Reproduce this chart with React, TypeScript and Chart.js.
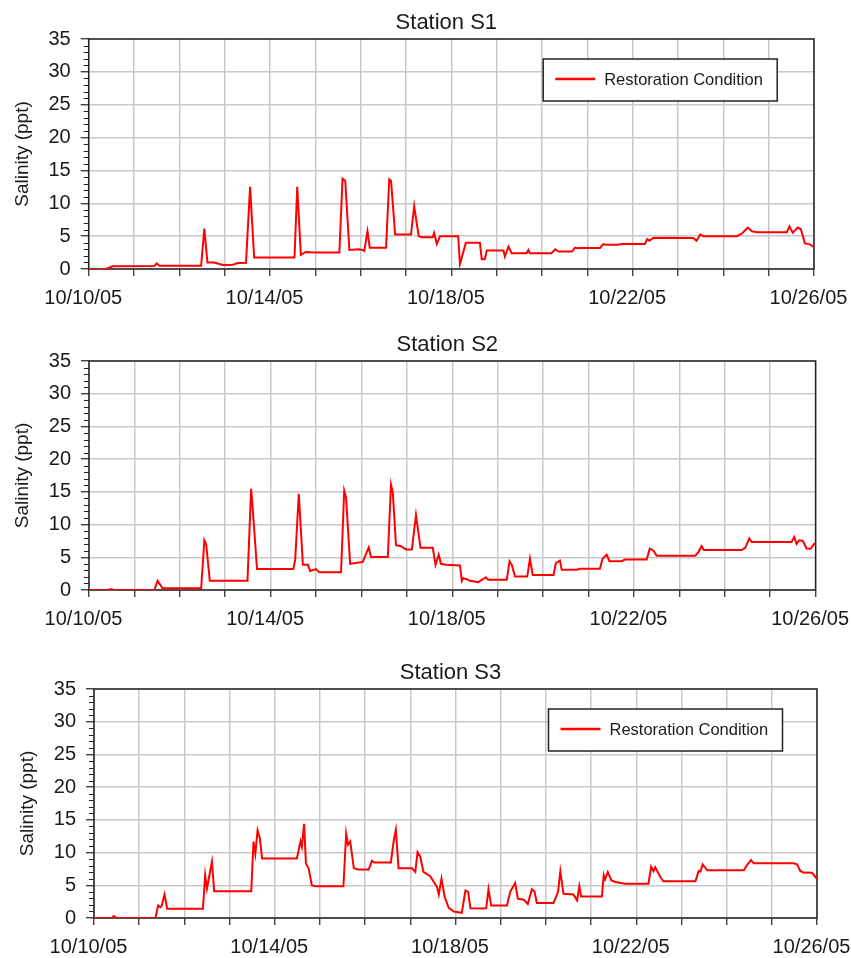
import React, { useEffect, useRef } from 'react';
import { Chart, registerables } from 'chart.js';

Chart.register(...registerables);

// ---------- data ----------
const dateLabels = ['10/10/05', '10/14/05', '10/18/05', '10/22/05', '10/26/05'];
const seriesLabel = 'Restoration Condition';

// days since 10/10/05
const s1Days = [0, 0.38, 0.45, 0.53, 1.45, 1.5, 1.56, 2.48, 2.55, 2.62, 2.77, 2.96, 3.18, 3.29, 3.47, 3.56, 3.65, 4.54, 4.6, 4.68, 4.79, 4.9, 5.09, 5.53, 5.6, 5.66, 5.75, 5.95, 6.04, 6.08, 6.15, 6.2, 6.56, 6.63, 6.67, 6.76, 7.11, 7.18, 7.28, 7.35, 7.59, 7.62, 7.68, 7.75, 8.15, 8.19, 8.32, 8.63, 8.67, 8.74, 8.78, 9.15, 9.18, 9.26, 9.33, 9.66, 9.7, 9.73, 10.21, 10.29, 10.36, 10.66, 10.73, 10.78, 10.85, 11.28, 11.35, 11.42, 11.68, 11.76, 12.27, 12.32, 12.37, 12.46, 13.34, 13.41, 13.49, 13.56, 14.3, 14.41, 14.54, 14.63, 14.75, 15.4, 15.46, 15.53, 15.64, 15.71, 15.8, 15.91, 16];
const s1Salinity = [0, 0, 0.2, 0.4, 0.45, 0.85, 0.5, 0.5, 6.15, 1.0, 1.0, 0.6, 0.65, 0.9, 0.95, 12.5, 1.75, 1.75, 12.5, 2.15, 2.6, 2.55, 2.5, 2.5, 13.75, 13.4, 2.9, 3.0, 2.9, 2.75, 5.75, 3.25, 3.25, 13.65, 13.4, 5.25, 5.25, 9.55, 5.0, 4.85, 4.85, 5.5, 3.8, 5.0, 5.0, 0.75, 4.0, 4.0, 1.5, 1.5, 2.8, 2.8, 1.9, 3.4, 2.4, 2.4, 2.9, 2.4, 2.4, 3.0, 2.65, 2.65, 3.25, 3.15, 3.2, 3.2, 3.8, 3.7, 3.7, 3.8, 3.8, 4.55, 4.3, 4.75, 4.7, 4.3, 5.25, 5.0, 5.0, 5.4, 6.3, 5.75, 5.6, 5.6, 6.5, 5.5, 6.3, 6.05, 3.9, 3.75, 3.3];

const s2Days = [0, 0.41, 0.48, 0.56, 1.44, 1.51, 1.62, 2.47, 2.54, 2.58, 2.66, 3.49, 3.57, 3.6, 3.7, 4.5, 4.54, 4.62, 4.71, 4.82, 4.87, 5.0, 5.07, 5.55, 5.62, 5.66, 5.75, 6.03, 6.16, 6.21, 6.58, 6.65, 6.69, 6.76, 6.87, 6.98, 7.11, 7.2, 7.3, 7.57, 7.63, 7.7, 7.75, 7.86, 8.17, 8.21, 8.24, 8.32, 8.39, 8.57, 8.65, 8.74, 8.79, 9.2, 9.26, 9.31, 9.38, 9.65, 9.71, 9.77, 10.23, 10.28, 10.37, 10.41, 10.74, 10.81, 11.25, 11.31, 11.4, 11.46, 11.73, 11.8, 12.28, 12.35, 12.43, 12.5, 13.35, 13.42, 13.49, 13.54, 14.37, 14.45, 14.54, 14.59, 15.47, 15.53, 15.58, 15.64, 15.72, 15.8, 15.89, 15.97, 16];
const s2Salinity = [0, 0, 0.15, 0, 0, 1.4, 0.25, 0.25, 7.6, 7.0, 1.4, 1.4, 15.45, 12.9, 3.2, 3.2, 4.6, 14.7, 3.85, 3.85, 2.9, 3.2, 2.7, 2.7, 15.2, 14.2, 4.0, 4.3, 6.5, 5.05, 5.05, 16.1, 14.9, 6.85, 6.7, 6.2, 6.2, 11.45, 6.45, 6.45, 3.85, 5.4, 4.0, 3.85, 3.75, 1.4, 1.8, 1.65, 1.4, 1.2, 1.55, 1.95, 1.55, 1.55, 4.4, 3.85, 2.05, 2.05, 4.8, 2.3, 2.3, 4.1, 4.5, 3.1, 3.1, 3.25, 3.25, 4.8, 5.4, 4.4, 4.4, 4.65, 4.65, 6.35, 6.0, 5.25, 5.25, 5.8, 6.7, 6.1, 6.1, 6.45, 7.9, 7.35, 7.35, 8.1, 7.05, 7.6, 7.5, 6.35, 6.3, 7.05, 7.05];

const s3Days = [0, 0.4, 0.435, 0.51, 1.36, 1.42, 1.47, 1.5, 1.56, 1.62, 2.41, 2.46, 2.5, 2.54, 2.61, 2.66, 3.48, 3.53, 3.57, 3.62, 3.67, 3.72, 4.49, 4.57, 4.6, 4.65, 4.69, 4.75, 4.82, 4.9, 5.52, 5.58, 5.62, 5.67, 5.75, 5.85, 6.08, 6.15, 6.2, 6.57, 6.63, 6.68, 6.74, 7.04, 7.11, 7.16, 7.22, 7.29, 7.44, 7.52, 7.59, 7.63, 7.69, 7.76, 7.85, 7.96, 8.14, 8.22, 8.28, 8.33, 8.62, 8.68, 8.73, 8.79, 9.14, 9.21, 9.32, 9.38, 9.51, 9.6, 9.69, 9.75, 9.8, 10.17, 10.27, 10.32, 10.39, 10.61, 10.69, 10.74, 10.78, 11.24, 11.28, 11.31, 11.37, 11.45, 11.54, 11.76, 12.27, 12.33, 12.38, 12.42, 12.53, 12.6, 13.31, 13.38, 13.42, 13.47, 13.57, 14.38, 14.45, 14.54, 14.6, 15.48, 15.56, 15.63, 15.7, 15.89, 16];
const s3Salinity = [0, 0, 0.3, 0, 0, 1.9, 1.65, 1.9, 3.6, 1.4, 1.4, 6.55, 4.5, 6.0, 8.6, 4.1, 4.1, 11.7, 9.8, 13.4, 12.2, 9.1, 9.1, 11.7, 10.9, 14.4, 8.35, 7.6, 5.0, 4.85, 4.85, 12.9, 11.2, 11.7, 7.6, 7.4, 7.4, 8.75, 8.5, 8.5, 11.7, 13.5, 7.6, 7.6, 7.05, 10.05, 9.4, 7.05, 6.4, 5.5, 4.75, 3.6, 6.0, 3.2, 1.55, 1.0, 0.8, 4.2, 4.0, 1.5, 1.45, 1.5, 4.4, 1.9, 1.9, 4.0, 5.35, 2.95, 2.8, 2.15, 4.4, 4.0, 2.3, 2.3, 4.0, 7.15, 3.7, 3.6, 2.7, 4.85, 3.3, 3.3, 6.55, 5.9, 7.05, 5.75, 5.5, 5.25, 5.25, 7.85, 7.15, 7.75, 6.3, 5.6, 5.6, 7.15, 7.1, 8.2, 7.3, 7.3, 8.1, 8.85, 8.35, 8.35, 8.2, 7.2, 6.95, 6.9, 6.0];

// ---------- styling ----------
const FONT = "'Liberation Sans', Arial, sans-serif";
const TEXT = '#1a1a1a';
const GRID = '#c8c8c8';
const AXIS = '#222222';
const LINE = '#ff0000';

const decorPlugin = {
  id: 'stationDecor',
  beforeDatasetsDraw(chart: any) {
    const { ctx, chartArea: a, scales } = chart;
    ctx.save();
    ctx.strokeStyle = AXIS;
    ctx.lineWidth = 1.5;
    ctx.strokeRect(a.left, a.top, a.right - a.left, a.bottom - a.top);
    ctx.lineWidth = 1;
    const y = scales.y;
    for (let v = 0; v <= 35; v++) {
      if (v % 5 === 0) continue;
      const py = Math.round(y.getPixelForValue(v)) + 0.5;
      ctx.beginPath();
      ctx.moveTo(a.left - 5, py);
      ctx.lineTo(a.left, py);
      ctx.stroke();
    }
    ctx.restore();
  },
  afterDatasetsDraw(chart: any, _args: any, opts: any) {
    const { ctx, chartArea: a } = chart;
    ctx.save();
    ctx.fillStyle = TEXT;
    ctx.font = `22px ${FONT}`;
    ctx.textAlign = 'center';
    ctx.textBaseline = 'alphabetic';
    ctx.fillText(opts.title, (a.left + a.right) / 2 - 5, a.top - 10.5);
    if (opts.legend) {
      const ds = chart.data.datasets[0];
      const bx = a.left + 454.5;
      const by = a.top + 20;
      const bw = 234;
      const bh = 42;
      ctx.fillStyle = '#ffffff';
      ctx.fillRect(bx, by, bw, bh);
      ctx.strokeStyle = AXIS;
      ctx.lineWidth = 1.5;
      ctx.strokeRect(bx, by, bw, bh);
      ctx.strokeStyle = ds.borderColor;
      ctx.lineWidth = 2.5;
      ctx.beginPath();
      ctx.moveTo(bx + 12, by + bh / 2 - 1);
      ctx.lineTo(bx + 52, by + bh / 2 - 1);
      ctx.stroke();
      ctx.fillStyle = TEXT;
      ctx.font = `16.5px ${FONT}`;
      ctx.textAlign = 'left';
      ctx.textBaseline = 'middle';
      ctx.fillText(ds.label, bx + 61, by + bh / 2);
    }
    ctx.restore();
  },
};

type Spec = {
  title: string;
  days: number[];
  values: number[];
  legend: boolean;
  canvasTop: number;
  canvasHeight: number;
  pad: { top: number; left: number; right: number; bottom: number };
  yWidth: number;
  xHeight: number;
};

const specs: Spec[] = [
  { title: 'Station S1', days: s1Days, values: s1Salinity, legend: true, canvasTop: 0, canvasHeight: 320, pad: { top: 39, left: 0, right: 37, bottom: 0 }, yWidth: 88.7, xHeight: 51 },
  { title: 'Station S2', days: s2Days, values: s2Salinity, legend: false, canvasTop: 320, canvasHeight: 320, pad: { top: 41, left: 0, right: 35.4, bottom: 0 }, yWidth: 89, xHeight: 50 },
  { title: 'Station S3', days: s3Days, values: s3Salinity, legend: true, canvasTop: 640, canvasHeight: 318, pad: { top: 49, left: 5, right: 34, bottom: 0 }, yWidth: 89, xHeight: 40 },
];

function makeConfig(spec: Spec): any {
  const points = spec.days.map((d, i) => ({ x: d, y: spec.values[i] }));
  return {
    type: 'line',
    data: {
      datasets: [
        {
          label: seriesLabel,
          data: points,
          borderColor: LINE,
          backgroundColor: LINE,
          borderWidth: 2,
          pointRadius: 0,
          tension: 0,
          fill: false,
        },
      ],
    },
    plugins: [decorPlugin],
    options: {
      responsive: false,
      animation: false,
      devicePixelRatio: 1,
      layout: { padding: spec.pad },
      plugins: {
        legend: { display: false },
        title: { display: false },
        tooltip: { enabled: false },
        stationDecor: { title: spec.title, legend: spec.legend },
      },
      scales: {
        x: {
          type: 'linear',
          min: 0,
          max: 16,
          afterFit: (s: any) => {
            s.height = spec.xHeight;
            s.paddingLeft = 0;
            s.paddingRight = 0;
          },
          ticks: {
            stepSize: 1,
            autoSkip: false,
            maxRotation: 0,
            minRotation: 0,
            labelOffset: -5.5,
            padding: 10.5,
            color: TEXT,
            font: { family: FONT, size: 20 },
            callback: (v: number) => (v % 4 === 0 ? dateLabels[v / 4] : ''),
          },
          grid: { color: GRID, lineWidth: 1.5, tickLength: 7, tickColor: AXIS, tickWidth: 1.2 },
          border: { display: false },
        },
        y: {
          min: 0,
          max: 35,
          afterFit: (s: any) => {
            s.width = spec.yWidth;
          },
          ticks: {
            stepSize: 5,
            padding: 10,
            color: TEXT,
            font: { family: FONT, size: 20 },
          },
          grid: { color: GRID, lineWidth: 1.5, tickLength: 8, tickColor: AXIS, tickWidth: 1.2 },
          border: { display: false },
          title: {
            display: true,
            text: 'Salinity (ppt)',
            color: TEXT,
            font: { family: FONT, size: 19 },
            padding: { top: 11.6, bottom: 0 },
          },
        },
      },
    },
  };
}

export default function App() {
  const refs = [useRef<HTMLCanvasElement>(null), useRef<HTMLCanvasElement>(null), useRef<HTMLCanvasElement>(null)];

  useEffect(() => {
    const charts = specs.map((spec, i) => new Chart(refs[i].current as HTMLCanvasElement, makeConfig(spec)));
    return () => charts.forEach((c) => c.destroy());
  }, []);

  return (
    <div style={{ position: 'absolute', left: 0, top: 0, width: 851, height: 958, background: '#fff' }}>
      {specs.map((spec, i) => (
        <canvas
          key={spec.title}
          ref={refs[i]}
          width={851}
          height={spec.canvasHeight}
          style={{ position: 'absolute', left: 0, top: spec.canvasTop, width: 851, height: spec.canvasHeight }}
        />
      ))}
    </div>
  );
}
